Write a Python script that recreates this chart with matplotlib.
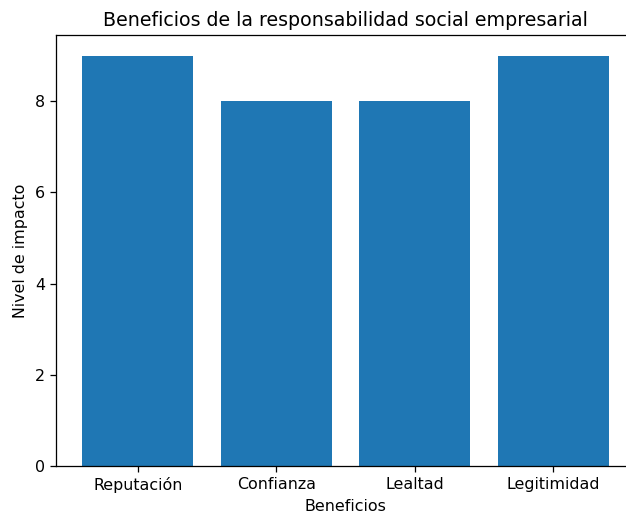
import matplotlib
matplotlib.use("Agg")
from matplotlib import pyplot as plt

beneficios = ["Reputación", "Confianza", "Lealtad", "Legitimidad"]
impacto = [9, 8, 8, 9]

dpi = 114
fig = plt.figure(figsize=(626 / dpi, 515 / dpi), dpi=dpi)
# axes run a little past the right edge, as in the reference
ax = fig.add_axes([56 / 626, 49 / 515, 579 / 626, 431 / 515])
ax.bar(beneficios, impacto)
ax.set_xlabel("Beneficios")
ax.set_ylabel("Nivel de impacto")
ax.set_title("Beneficios de la responsabilidad social empresarial")
fig.savefig("out.png", dpi=dpi)
